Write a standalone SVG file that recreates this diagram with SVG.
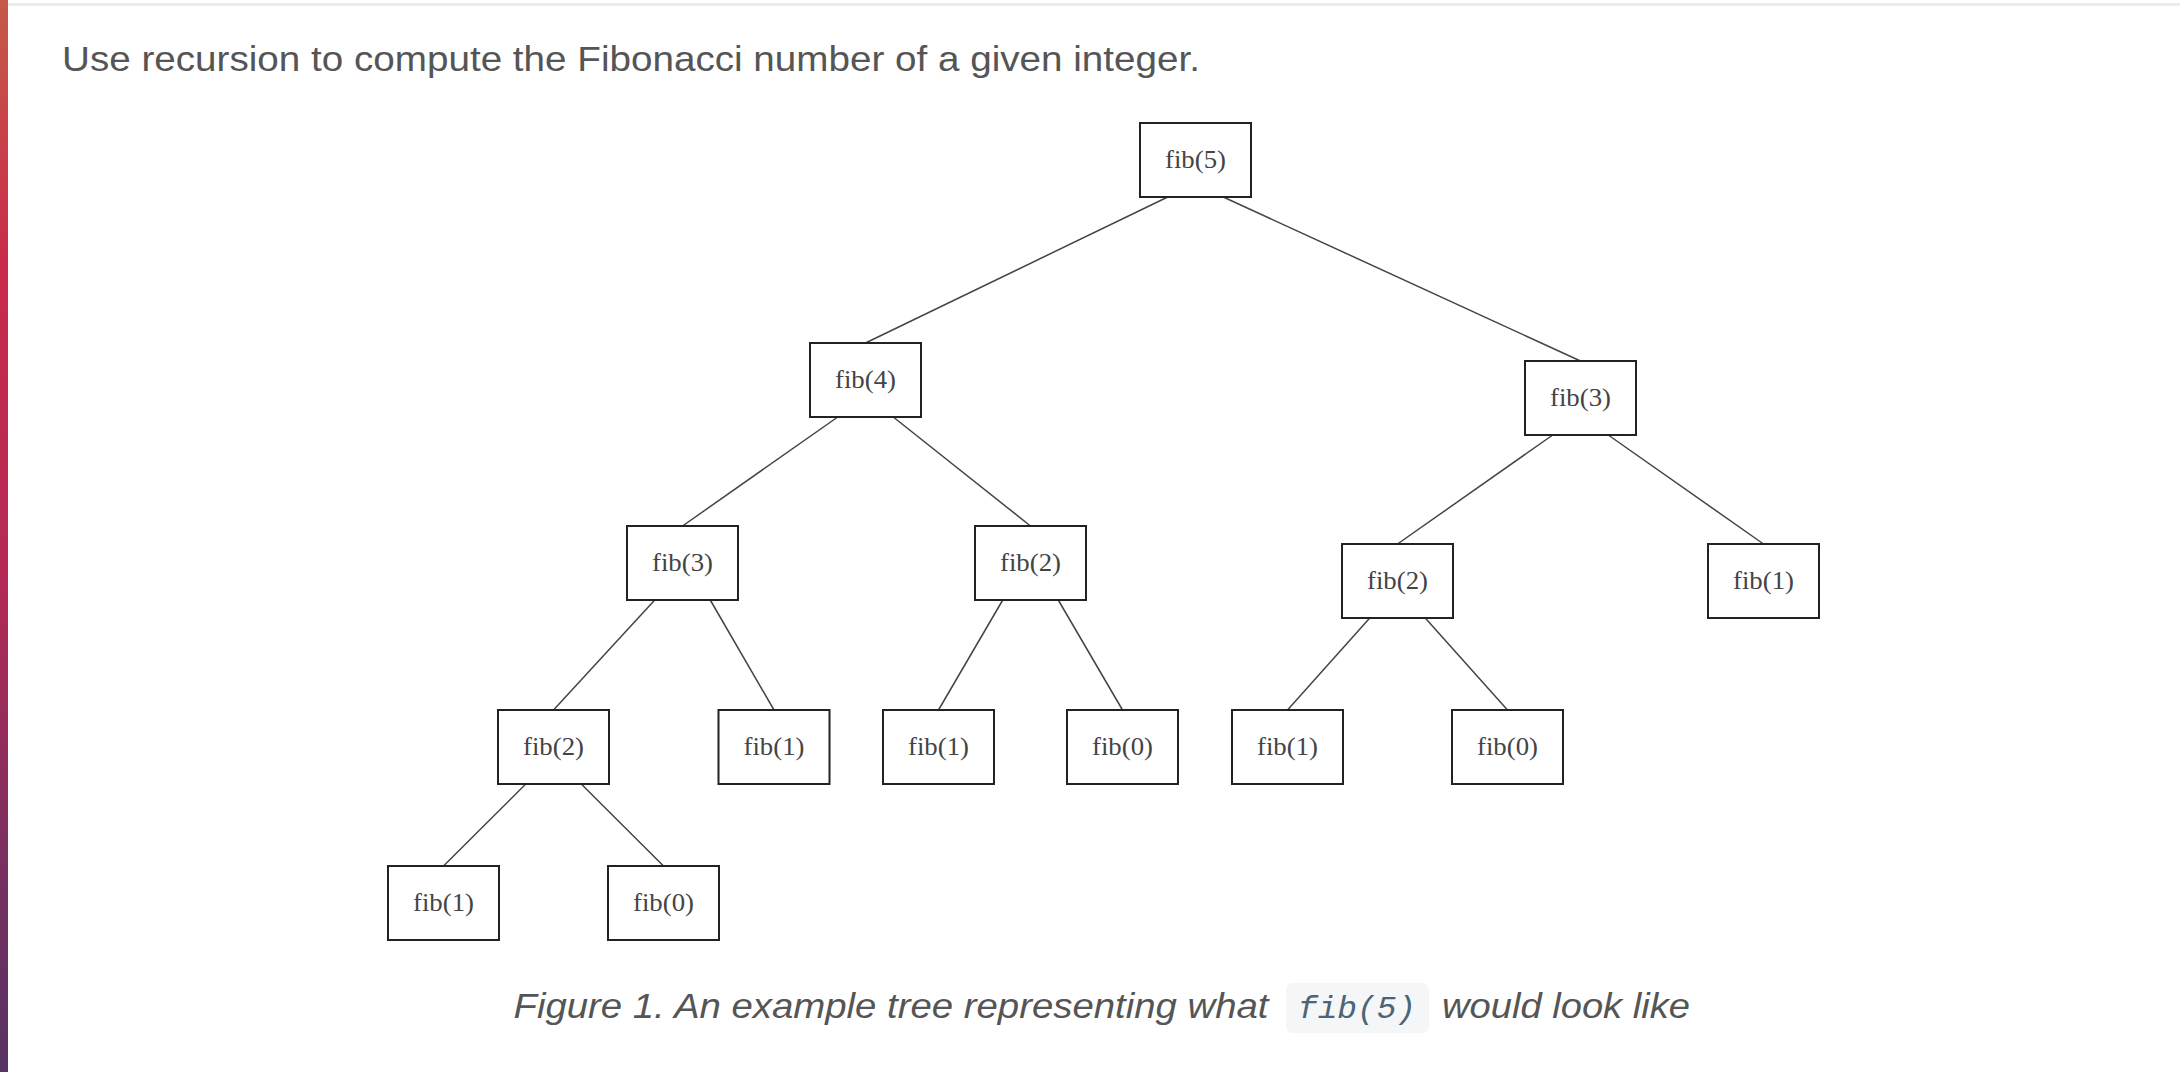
<svg xmlns="http://www.w3.org/2000/svg" width="2180" height="1072" viewBox="0 0 2180 1072">
<defs>
<linearGradient id="bar" x1="0" y1="0" x2="0" y2="1">
<stop offset="0" stop-color="#c65a48"/>
<stop offset="0.25" stop-color="#c92a4b"/>
<stop offset="0.55" stop-color="#b22a56"/>
<stop offset="0.8" stop-color="#7a2f60"/>
<stop offset="1" stop-color="#553363"/>
</linearGradient>
<style>
.box{fill:#fff;stroke:#222;stroke-width:2}
.lbl{font-family:"Liberation Serif","Times New Roman",serif;font-size:25px;fill:#444;text-anchor:middle}
.edge{stroke:#444;stroke-width:1.5;fill:none}
.txt{font-family:"Liberation Sans",Arial,sans-serif;fill:#555}
</style>
</defs>
<rect x="0" y="0" width="2180" height="1072" fill="#fff"/>
<rect x="0" y="0" width="8" height="1072" fill="url(#bar)"/>
<rect x="8" y="3" width="2172" height="3" fill="#ececec"/>
<text class="txt" x="62" y="71" font-size="35" textLength="1138" lengthAdjust="spacingAndGlyphs">Use recursion to compute the Fibonacci number of a given integer.</text>

<g id="connectors">
<line class="edge" x1="1167.75" y1="197" x2="865.5" y2="343"/>
<line class="edge" x1="1223.25" y1="197" x2="1580.5" y2="361"/>
<line class="edge" x1="837.75" y1="417" x2="682.5" y2="526"/>
<line class="edge" x1="893.25" y1="417" x2="1030.5" y2="526"/>
<line class="edge" x1="1552.75" y1="435" x2="1397.5" y2="544"/>
<line class="edge" x1="1608.25" y1="435" x2="1763.5" y2="544"/>
<line class="edge" x1="654.75" y1="600" x2="553.5" y2="710"/>
<line class="edge" x1="710.25" y1="600" x2="774" y2="710"/>
<line class="edge" x1="1002.75" y1="600" x2="938.5" y2="710"/>
<line class="edge" x1="1058.25" y1="600" x2="1122.5" y2="710"/>
<line class="edge" x1="1369.75" y1="618" x2="1287.5" y2="710"/>
<line class="edge" x1="1425.25" y1="618" x2="1507.5" y2="710"/>
<line class="edge" x1="525.75" y1="784" x2="443.5" y2="866"/>
<line class="edge" x1="581.25" y1="784" x2="663.5" y2="866"/>
</g>

<g id="n-fib5"><rect class="box" x="1140" y="123" width="111" height="74"/><text class="lbl" x="1195.5" y="168" textLength="61" lengthAdjust="spacingAndGlyphs">fib(5)</text></g>
<g id="n-fib4"><rect class="box" x="810" y="343" width="111" height="74"/><text class="lbl" x="865.5" y="388" textLength="61" lengthAdjust="spacingAndGlyphs">fib(4)</text></g>
<g id="n-fib3-r"><rect class="box" x="1525" y="361" width="111" height="74"/><text class="lbl" x="1580.5" y="406" textLength="61" lengthAdjust="spacingAndGlyphs">fib(3)</text></g>
<g id="n-fib3-l"><rect class="box" x="627" y="526" width="111" height="74"/><text class="lbl" x="682.5" y="571" textLength="61" lengthAdjust="spacingAndGlyphs">fib(3)</text></g>
<g id="n-fib2-m"><rect class="box" x="975" y="526" width="111" height="74"/><text class="lbl" x="1030.5" y="571" textLength="61" lengthAdjust="spacingAndGlyphs">fib(2)</text></g>
<g id="n-fib2-r"><rect class="box" x="1342" y="544" width="111" height="74"/><text class="lbl" x="1397.5" y="589" textLength="61" lengthAdjust="spacingAndGlyphs">fib(2)</text></g>
<g id="n-fib1-r"><rect class="box" x="1708" y="544" width="111" height="74"/><text class="lbl" x="1763.5" y="589" textLength="61" lengthAdjust="spacingAndGlyphs">fib(1)</text></g>
<g id="n-fib2-l4"><rect class="box" x="498" y="710" width="111" height="74"/><text class="lbl" x="553.5" y="755" textLength="61" lengthAdjust="spacingAndGlyphs">fib(2)</text></g>
<g id="n-fib1-a"><rect class="box" x="718.5" y="710" width="111" height="74"/><text class="lbl" x="774" y="755" textLength="61" lengthAdjust="spacingAndGlyphs">fib(1)</text></g>
<g id="n-fib1-b"><rect class="box" x="883" y="710" width="111" height="74"/><text class="lbl" x="938.5" y="755" textLength="61" lengthAdjust="spacingAndGlyphs">fib(1)</text></g>
<g id="n-fib0-a"><rect class="box" x="1067" y="710" width="111" height="74"/><text class="lbl" x="1122.5" y="755" textLength="61" lengthAdjust="spacingAndGlyphs">fib(0)</text></g>
<g id="n-fib1-c"><rect class="box" x="1232" y="710" width="111" height="74"/><text class="lbl" x="1287.5" y="755" textLength="61" lengthAdjust="spacingAndGlyphs">fib(1)</text></g>
<g id="n-fib0-b"><rect class="box" x="1452" y="710" width="111" height="74"/><text class="lbl" x="1507.5" y="755" textLength="61" lengthAdjust="spacingAndGlyphs">fib(0)</text></g>
<g id="n-fib1-d"><rect class="box" x="388" y="866" width="111" height="74"/><text class="lbl" x="443.5" y="911" textLength="61" lengthAdjust="spacingAndGlyphs">fib(1)</text></g>
<g id="n-fib0-c"><rect class="box" x="608" y="866" width="111" height="74"/><text class="lbl" x="663.5" y="911" textLength="61" lengthAdjust="spacingAndGlyphs">fib(0)</text></g>

<g id="caption">
<text class="txt" x="513.5" y="1018" font-size="35" font-style="italic" textLength="755" lengthAdjust="spacingAndGlyphs">Figure 1. An example tree representing what</text>
<rect x="1286" y="983" width="143" height="50" rx="7" fill="#f4f6f8"/>
<text x="1298" y="1018" font-family="'Liberation Mono','Courier New',monospace" font-size="32" font-style="italic" fill="#4b6476" textLength="118" lengthAdjust="spacingAndGlyphs">fib(5)</text>
<text class="txt" x="1442" y="1018" font-size="35" font-style="italic" textLength="248" lengthAdjust="spacingAndGlyphs">would look like</text>
</g>
</svg>
